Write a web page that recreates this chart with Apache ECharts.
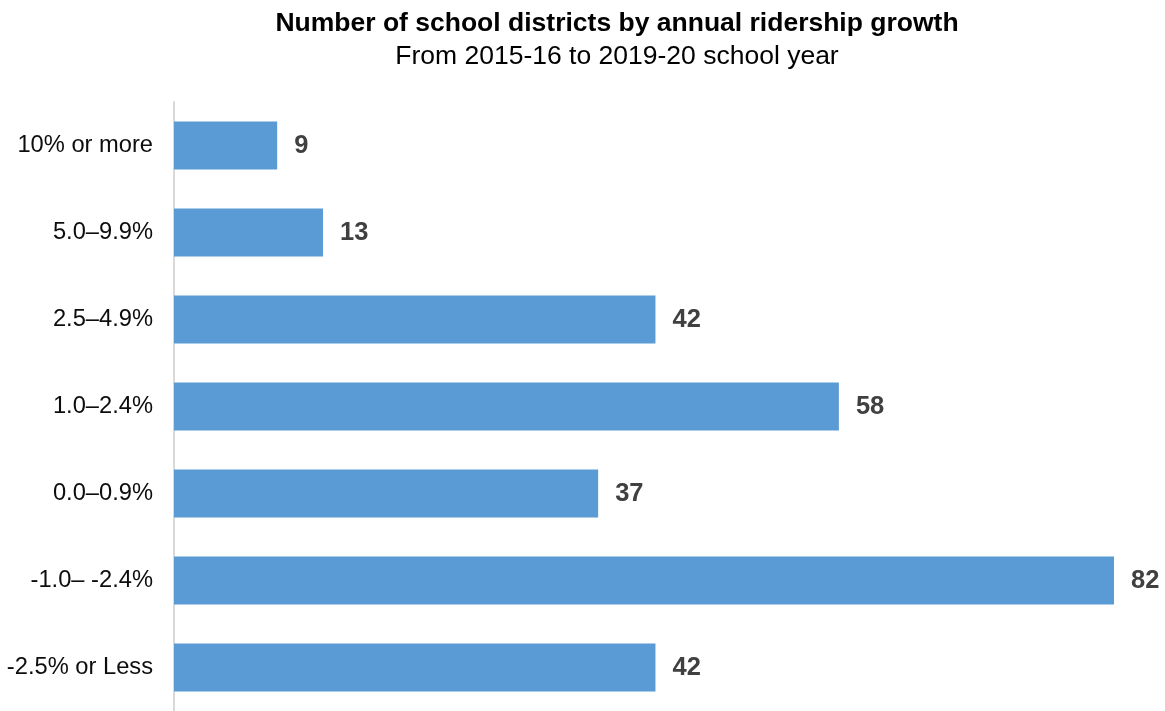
<!DOCTYPE html>
<html style="height: 100%">
<head>
  <meta charset="utf-8">
  <title>School district ridership growth</title>
</head>
<body style="height: 100%; margin: 0">
<div id="container" style="width:1165px;height:711px;background:#fff"></div>
<script src="https://cdn.jsdelivr.net/npm/echarts@6/dist/echarts.min.js"></script>
<script type="text/javascript">
  // categories listed top to bottom
  var categories = ['10% or more', '5.0\u20139.9%', '2.5\u20134.9%', '1.0\u20132.4%', '0.0\u20130.9%', '-1.0\u2013 -2.4%', '-2.5% or Less'];
  var districts = [9, 13, 42, 58, 37, 82, 42];

  var chart = echarts.init(document.getElementById('container'));

  var option = {
    animation: false,
    textStyle: { fontFamily: '"Liberation Sans", Arial, sans-serif' },
    title: {
      text: 'Number of school districts by annual ridership growth',
      subtext: 'From 2015-16 to 2019-20 school year',
      left: 612,
      textAlign: 'center',
      top: 5,
      itemGap: 6,
      textStyle: { fontSize: 26.5, fontWeight: 'bold', color: '#000' },
      subtextStyle: { fontSize: 26.5, color: '#000' }
    },
    grid: { left: 174, top: 102, width: 940, height: 614 },
    xAxis: {
      type: 'value',
      min: 0,
      max: 82,
      show: false
    },
    yAxis: {
      type: 'category',
      data: categories,
      inverse: true,
      axisLine: { lineStyle: { color: '#d9d9d9', width: 2 } },
      axisTick: { show: false },
      axisLabel: { fontSize: 23.7, color: '#0d0d0d', margin: 21 }
    },
    series: [{
      type: 'bar',
      data: districts,
      barWidth: 48,
      itemStyle: { color: '#5b9bd5' },
      label: {
        show: true,
        position: 'right',
        distance: 17,
        fontSize: 25.5,
        fontWeight: 'bold',
        color: '#404040'
      }
    }]
  };

  chart.setOption(option);
</script>
</body>
</html>
